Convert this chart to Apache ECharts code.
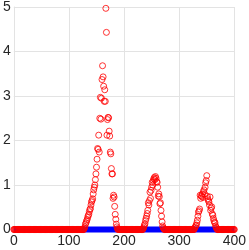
<!DOCTYPE html>
<html><head><meta charset="utf-8">
<script src="https://cdn.jsdelivr.net/npm/echarts@6/dist/echarts.min.js"></script>
<style>html,body{margin:0;padding:0;background:#fff}#c{width:249px;height:250px}</style>
</head><body><div id="c"></div>
<script>
// x range of the red series (one sample per integer x)
var xStart = 0, xEnd = 400;
// peaks of the red series: start x and values per step
var peak1Start = 128;
var peak1 = [0.03,0.06,0.12,0.15,0.19,0.22,0.27,0.31,0.34,0.40,0.45,0.47,0.55,0.62,0.65,0.69,0.80,0.89,0.95,1.00,1.12,1.25,1.40,1.58,1.82,1.80,2.12,1.74,2.50,2.97,2.48,2.95,3.37,3.68,3.43,3.22,2.88,3.14,2.88,4.97,4.43,2.12,2.47,2.52,2.51,2.21,2.10,1.74,1.70,1.37,1.25,1.25,0.70,0.77,0.73,0.52,0.34,0.23,0.12,0.06,0.02];
var peak2Start = 235;
var peak2 = [0.03,0.06,0.10,0.13,0.20,0.25,0.30,0.36,0.43,0.60,0.55,0.65,0.84,0.70,0.88,0.95,1.06,1.00,1.10,1.14,1.17,1.12,1.19,1.15,1.08,1.06,0.95,0.75,0.80,0.74,0.58,0.60,0.43,0.30,0.17,0.08,0.04,0.02];
var peak3Start = 328;
var peak3 = [0.03,0.05,0.08,0.10,0.15,0.21,0.30,0.39,0.42,0.46,0.77,0.70,0.76,0.74,0.80,0.72,0.85,0.89,0.80,0.95,1.05,1.10,1.21,0.75,0.69,0.65,0.62,0.55,0.73,0.43,0.48,0.51,0.35,0.32,0.25,0.20,0.16,0.15,0.08,0.05,0.02];
// blue baseline series
var blueX = [0, 400];
var blueY = [0, 0];
// tick labels
var xTicks = [0, 100, 200, 300, 400];
var yTicks = [0, 1, 2, 3, 4, 5];

var peaks = [[peak1Start, peak1], [peak2Start, peak2], [peak3Start, peak3]];
var redData = [];
for (var x = xStart; x <= xEnd; x++) {
  var v = 0;
  peaks.forEach(function (p) {
    var i = x - p[0];
    if (i >= 0 && i < p[1].length) v = p[1][i];
  });
  redData.push([x, v]);
}
var blueData = blueX.map(function (x, i) { return [x, blueY[i]]; });

var chart = echarts.init(document.getElementById('c'), null, {renderer: 'canvas'});
var gridColor = '#e3e3e3';
var labelStyle = {color: '#262626', fontSize: 14, fontFamily: 'Liberation Sans, Arial, sans-serif'};
chart.setOption({
  animation: false,
  grid: {left: 12, right: 12, top: 4.5, bottom: 20.5, containLabel: false},
  xAxis: {
    type: 'value', min: xTicks[0], max: xTicks[xTicks.length - 1], interval: 100,
    axisLine: {show: true, lineStyle: {color: gridColor}},
    axisTick: {show: false},
    splitLine: {show: true, lineStyle: {color: gridColor, width: 1}},
    axisLabel: Object.assign({margin: 5}, labelStyle)
  },
  yAxis: {
    type: 'value', min: yTicks[0], max: yTicks[yTicks.length - 1], interval: 1,
    axisLine: {show: true, lineStyle: {color: gridColor}},
    axisTick: {show: false},
    splitLine: {show: true, lineStyle: {color: gridColor, width: 1}},
    axisLabel: Object.assign({margin: 3}, labelStyle)
  },
  series: [
    {
      type: 'line', data: blueData, symbol: 'none', clip: false,
      lineStyle: {color: '#0000ff', width: 6, cap: 'butt'}, z: 2
    },
    {
      type: 'scatter', data: redData, symbol: 'circle', symbolSize: 6, clip: false,
      itemStyle: {color: 'rgba(0,0,0,0)', borderColor: '#ff0000', borderWidth: 1},
      z: 3
    }
  ]
});
</script>
</body></html>
